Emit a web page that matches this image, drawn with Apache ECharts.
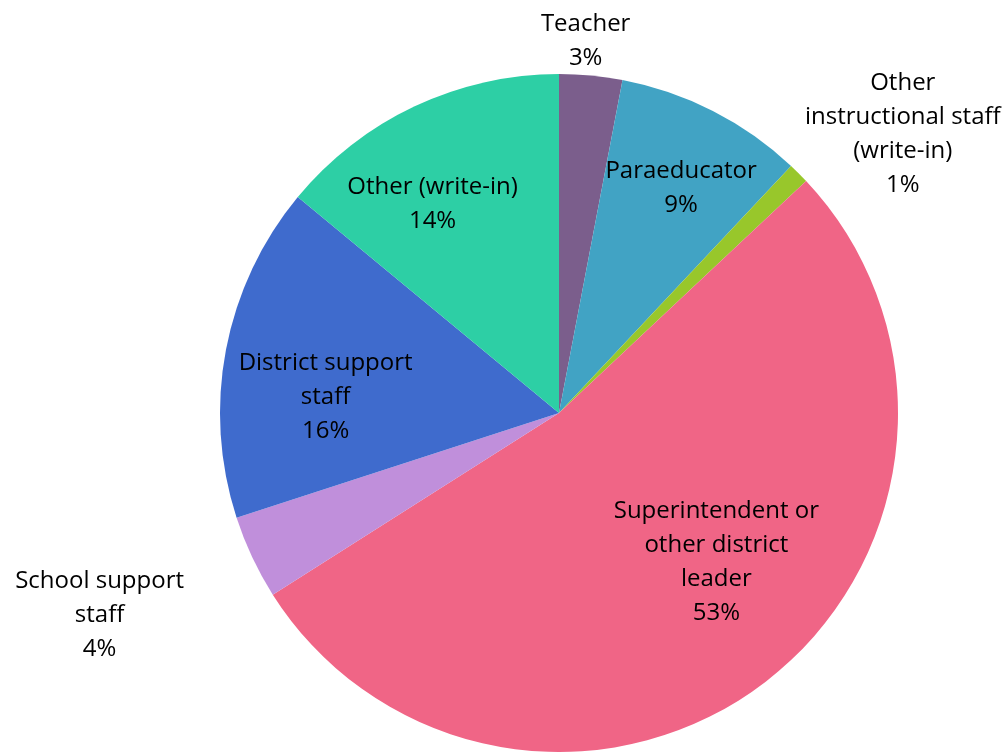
<!DOCTYPE html>
<html>
<head>
<meta charset="utf-8">
<script src="https://cdn.jsdelivr.net/npm/echarts@6/dist/echarts.min.js"></script>
<style>
  html, body { margin: 0; padding: 0; background: #fff; }
  #chart { width: 1007px; height: 752px; }
</style>
</head>
<body>
<div id="chart"></div>
<script>
// Respondent roles, clockwise from 12 o'clock
const categories = [
  'Teacher',
  'Paraeducator',
  'Other\ninstructional staff\n(write-in)',
  'Superintendent or\nother district\nleader',
  'School support\nstaff',
  'District support\nstaff',
  'Other (write-in)'
];
const shares = [3, 9, 1, 53, 4, 16, 14];
const colors = ['#7B5E8C', '#41A3C4', '#98C72B', '#F06586', '#C08FDB', '#3F6BCD', '#2DCFA5'];

// Label placement: radial distance (fraction of radius) and angular nudge (degrees)
const labelRadius = [1.10, 0.755, 1.305, 0.64, 1.48, 0.69, 0.72];
const labelNudge  = [-1.3, 1.5, 6, -8.7, 1.5, -7, -6];

const CX = 559, CY = 413, R = 339;

const total = shares.reduce((a, b) => a + b, 0);
const midAngles = [];
let acc = 0;
shares.forEach(v => { midAngles.push((acc + v / 2) / total * 360); acc += v; });

const chart = echarts.init(document.getElementById('chart'), null, { renderer: 'canvas' });
chart.setOption({
  animation: false,
  backgroundColor: '#ffffff',
  series: [{
    type: 'pie',
    center: [CX, CY],
    radius: [0, R],
    startAngle: 90,
    clockwise: true,
    avoidLabelOverlap: false,
    itemStyle: { borderWidth: 0 },
    label: {
      show: true,
      position: 'inside',
      formatter: p => p.name + '\n' + Math.round(p.percent) + '%',
      fontFamily: '"Open Sans", sans-serif',
      fontSize: 24,
      lineHeight: 34,
      color: '#000000',
      align: 'center'
    },
    labelLine: { show: false },
    emphasis: { disabled: true },
    labelLayout: function (p) {
      const i = p.dataIndex;
      const a = (midAngles[i] + labelNudge[i]) * Math.PI / 180;
      const d = labelRadius[i] * R;
      return {
        x: CX + d * Math.sin(a),
        y: CY - d * Math.cos(a),
        align: 'center',
        verticalAlign: 'middle'
      };
    },
    data: categories.map((name, i) => ({
      name: name,
      value: shares[i],
      itemStyle: { color: colors[i] }
    }))
  }]
});
</script>
</body>
</html>
